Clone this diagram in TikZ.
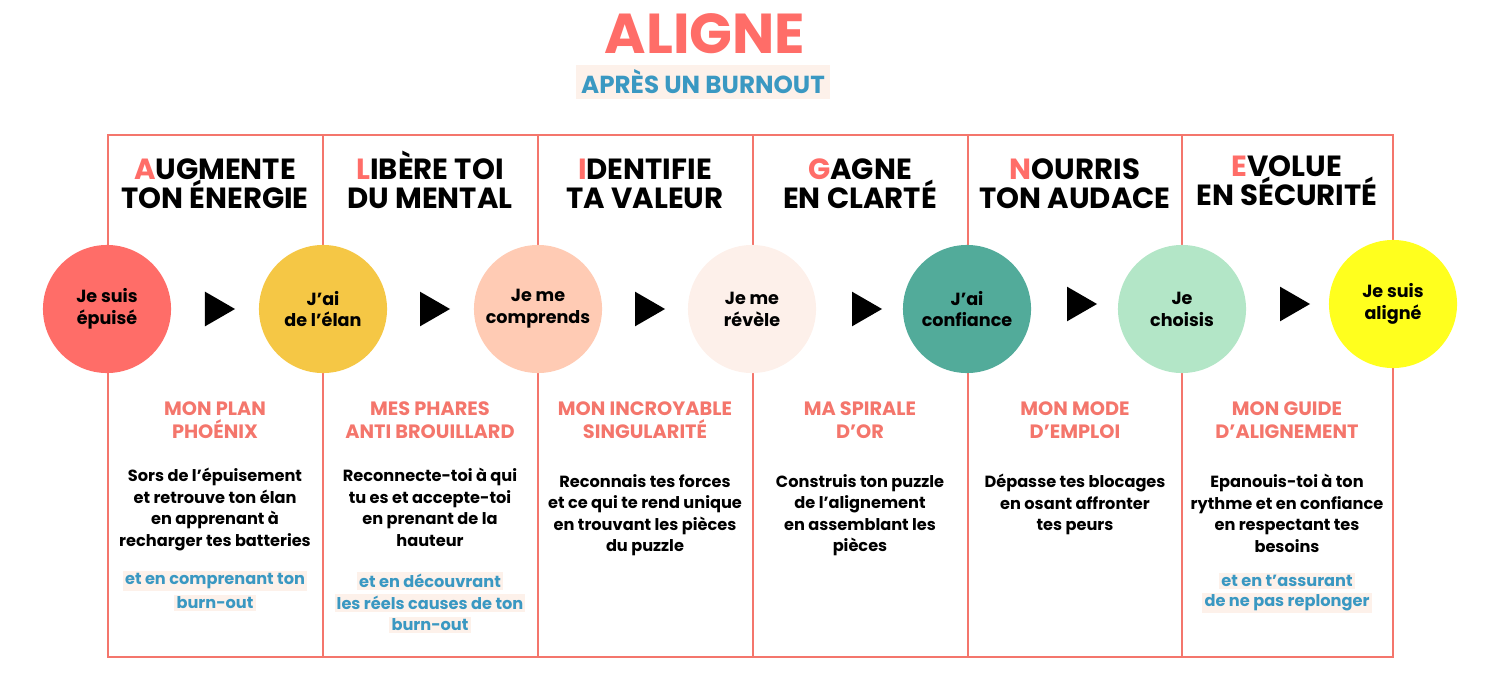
\documentclass[tikz,border=0pt]{standalone}
\usepackage{fontspec}
\setmainfont{Poppins}
\usetikzlibrary{positioning,shapes.geometric}
\definecolor{corail}{HTML}{FF6D68}
\definecolor{saumon}{HTML}{F4766C}
\definecolor{bleu}{HTML}{3A98C2}
\definecolor{peche}{HTML}{FDF1EA}
\definecolor{cjaune}{HTML}{F5C745}
\definecolor{cpeche}{HTML}{FFCBB4}
\definecolor{cclair}{HTML}{FDF0EA}
\definecolor{cvert}{HTML}{52AB9A}
\definecolor{cmenthe}{HTML}{B3E6C7}
\definecolor{cfluo}{HTML}{FFFF1E}
\tikzset{
  etape/.style={circle, minimum size=1.28cm, inner sep=0pt, align=center,
    font=\fontsize{5}{6.2}\selectfont\bfseries},
  fleche/.style={isosceles triangle, isosceles triangle apex angle=60, fill=black,
    minimum height=0.3cm, minimum width=0.34cm, inner sep=0pt},
  titre/.style={align=center, anchor=north, inner sep=0pt, font=\fontsize{8.3}{8.2}\selectfont\bfseries},
  outil/.style={align=center, text=saumon, font=\fontsize{5.5}{6.6}\selectfont\bfseries},
  texte/.style={align=center, anchor=north, font=\fontsize{4.6}{6.1}\selectfont\bfseries},
  bonus/.style={text=bleu, fill=peche, inner sep=0.6pt, font=\fontsize{4.6}{6.1}\selectfont\bfseries},
  cadre/.style={draw=saumon, line width=0.7pt}
}
\newcommand{\rouge}[1]{\textcolor{corail}{#1}}
\begin{document}
\begin{tikzpicture}[x=0.01cm, y=-0.01cm]
\useasboundingbox (0,0) rectangle (1500,700);
% titre
\node[text=corail, font=\fontsize{16}{18}\selectfont\bfseries] (aligne) at (705,34) {ALIGNE};
\node[text=bleu, fill=peche, inner sep=1.5pt, font=\fontsize{7}{8}\selectfont\bfseries] (apres) at (703,82) {APRÈS UN BURNOUT};
% cadre
\draw[cadre] (108,135) rectangle (1393,657);
\foreach \x in {323,538,753,968,1182}
  \draw[cadre] (\x,135) -- (\x,657);
% etapes
\node[etape, fill=corail] (e1) at (107,309) {Je suis\\épuisé};
\node[etape, fill=cjaune] (e2) at (323,309) {J’ai\\de l’élan};
\node[etape, fill=cpeche] (e3) at (538,309) {Je me\\comprends};
\node[etape, fill=cclair] (e4) at (752,309) {Je me\\révèle};
\node[etape, fill=cvert] (e5) at (967,309) {J’ai\\confiance};
\node[etape, fill=cmenthe] (e6) at (1182,309) {Je\\choisis};
\node[etape, fill=cfluo] (e7) at (1393,304) {Je suis\\aligné};
% fleches
\node[fleche] (f1) at (215,309) {};
\node[fleche] (f2) at (430,309) {};
\node[fleche] (f3) at (645,309) {};
\node[fleche] (f4) at (862,309) {};
\node[fleche] (f5) at (1077,304) {};
\node[fleche] (f6) at (1290,304) {};
% titres
\node[titre] (t1) at (215,150) {\vphantom{É}\rouge{A}UGMENTE\\TON ÉNERGIE};
\node[titre] (t2) at (430,150) {\vphantom{É}\rouge{L}IBÈRE TOI\\DU MENTAL};
\node[titre] (t3) at (645,150) {\vphantom{É}\rouge{I}DENTIFIE\\TA VALEUR};
\node[titre] (t4) at (860,150) {\vphantom{É}\rouge{G}AGNE\\EN CLARTÉ};
\node[titre] (t5) at (1075,150) {\vphantom{É}\rouge{N}OURRIS\\TON AUDACE};
\node[titre] (t6) at (1287,147) {\vphantom{É}\rouge{E}VOLUE\\EN SÉCURITÉ};
% outils
\node[outil] (o1) at (215,420) {MON PLAN\\PHOÉNIX};
\node[outil] (o2) at (430,420) {MES PHARES\\ANTI BROUILLARD};
\node[outil] (o3) at (645,420) {MON INCROYABLE\\SINGULARITÉ};
\node[outil] (o4) at (860,420) {MA SPIRALE\\D’OR};
\node[outil] (o5) at (1075,420) {MON MODE\\D’EMPLOI};
\node[outil] (o6) at (1287,420) {MON GUIDE\\D’ALIGNEMENT};
% textes
\node[texte] (x1) at (215,456) {Sors de l'épuisement\\et retrouve ton élan\\en apprenant à\\recharger tes batteries};
\node[texte] (x2) at (430,456) {Reconnecte-toi à qui\\tu es et accepte-toi\\en prenant de la\\hauteur};
\node[texte] (x3) at (645,462) {Reconnais tes forces\\et ce qui te rend unique\\en trouvant les pièces\\du puzzle};
\node[texte] (x4) at (860,462) {Construis ton puzzle\\de l'alignement\\en assemblant les\\pièces};
\node[texte] (x5) at (1075,462) {Dépasse tes blocages\\en osant affronter\\tes peurs};
\node[texte] (x6) at (1287,462) {Epanouis-toi à ton\\rythme et en confiance\\en respectant tes\\besoins};
% bonus
\node[bonus] (b1a) at (215,581) {et en comprenant ton};
\node[bonus] (b1b) at (215,603) {burn-out};
\node[bonus] (b2a) at (430,581) {et en découvrant};
\node[bonus] (b2b) at (430,603) {les réels causes de ton};
\node[bonus] (b2c) at (430,625) {burn-out};
\node[bonus] (b6a) at (1287,581) {et en t’assurant};
\node[bonus] (b6b) at (1287,603) {de ne pas replonger};
\end{tikzpicture}
\end{document}
